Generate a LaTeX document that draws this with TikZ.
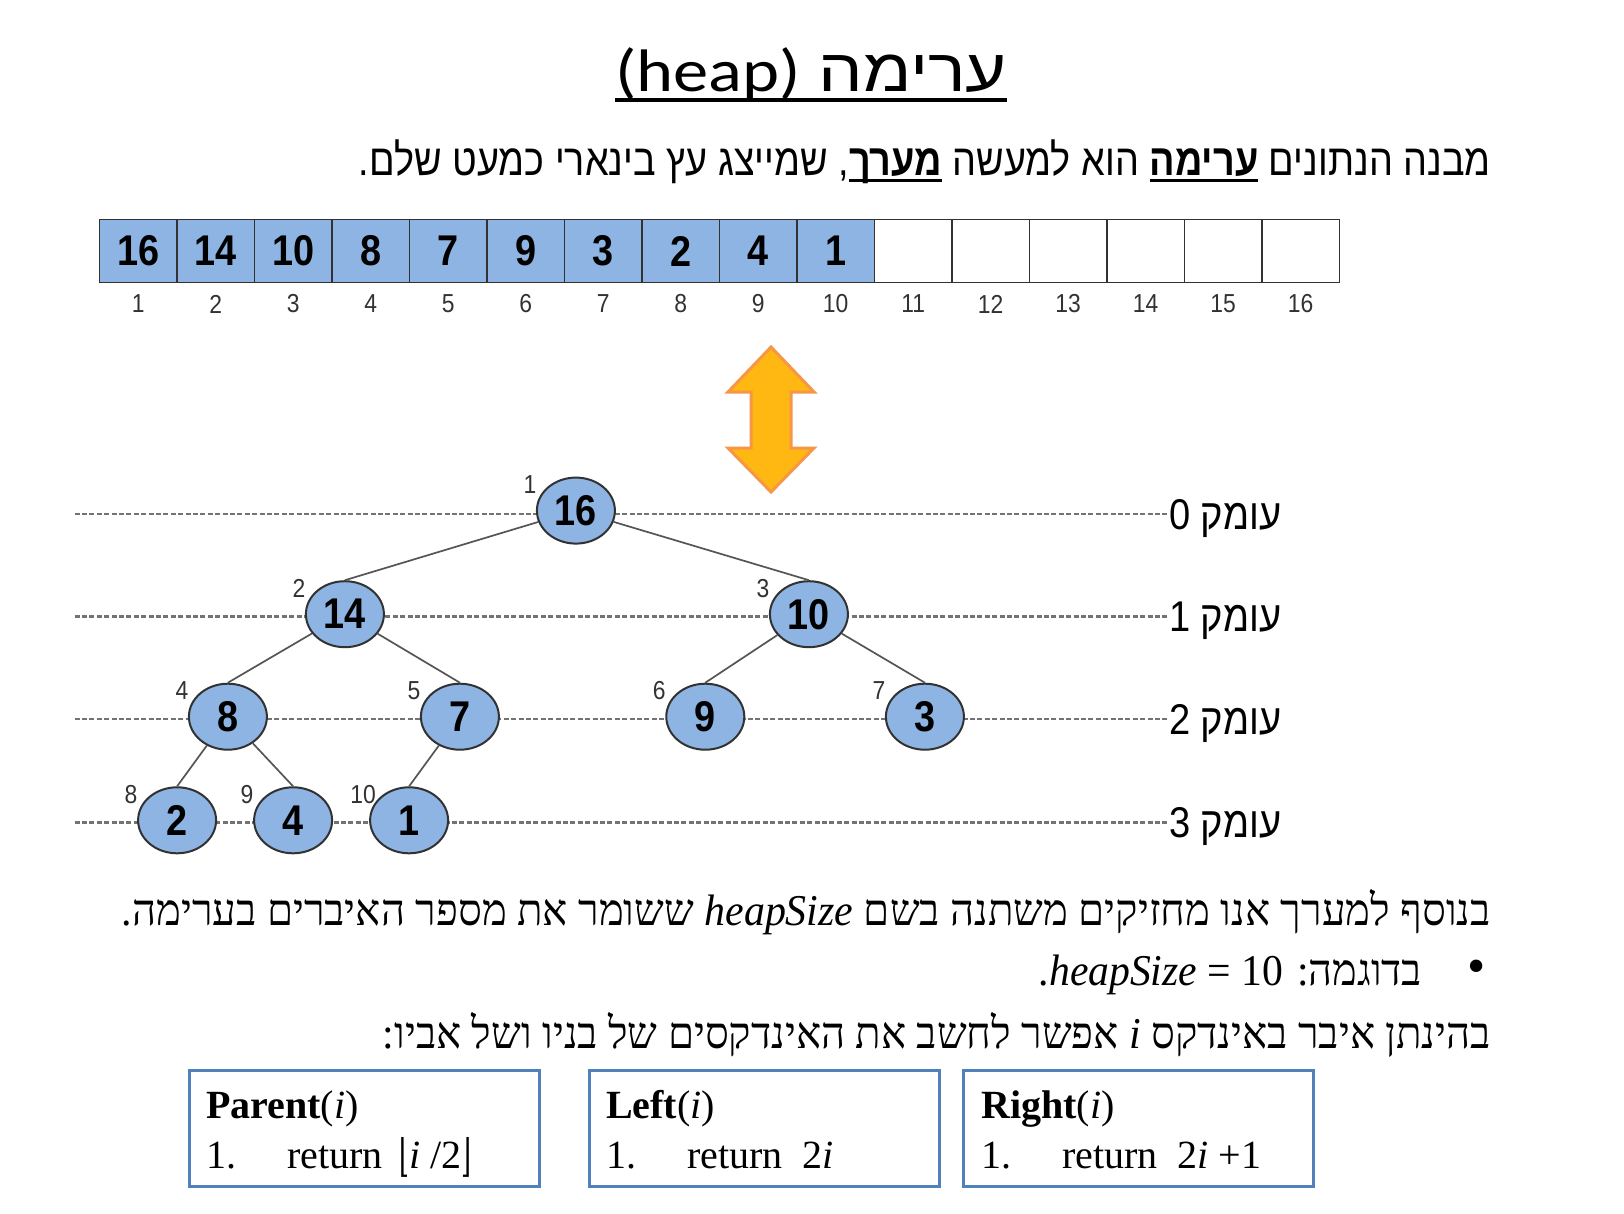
\documentclass[tikz,border=0pt]{standalone}
\usepackage{fontspec}
\usepackage{graphicx}
\usetikzlibrary{shapes.geometric}
\TeXXeTstate=1
\setmainfont{Liberation Serif}
\newfontfamily\hebsans[Script=Hebrew]{Liberation Sans}
\newfontfamily\hebserif[Script=Hebrew]{Liberation Serif}
\newfontfamily\arialf{Liberation Sans}
\newfontfamily\calibf{Carlito}
\newfontfamily\djvserif{DejaVu Serif}
\definecolor{cellblue}{RGB}{141,180,226}
\definecolor{darkline}{RGB}{50,50,50}
\definecolor{edgegray}{RGB}{85,85,85}
\definecolor{dotgray}{RGB}{115,115,115}
\definecolor{boxblue}{RGB}{79,129,189}
\definecolor{arrowfill}{RGB}{255,184,18}
\definecolor{arrowedge}{RGB}{247,150,70}
\definecolor{idxgray}{RGB}{50,50,50}
\newcommand{\ulbold}[1]{\hbox{\setbox0\hbox{\bfseries #1}\rlap{\rule[-6pt]{\wd0}{2.8pt}}\box0}}
\newcommand{\dg}[1]{\scalebox{0.88}[1]{#1}}
\newcommand{\flr}[1]{{\djvserif\fontsize{32}{32}\selectfont\raisebox{-3pt}{\scalebox{0.8}[1.4]{#1}}}}
\tikzset{
  cell/.style={draw=darkline,line width=1.5pt,minimum width=77.5pt,minimum height=63.1pt,inner sep=0pt,
    font=\arialf\bfseries\fontsize{43}{43}\selectfont},
  aidx/.style={inner sep=0pt,text=idxgray,font=\arialf\fontsize{26}{26}\selectfont},
  tn/.style={ellipse,draw=darkline,line width=2pt,fill=cellblue,minimum width=78pt,minimum height=66pt,inner sep=0pt,
    font=\arialf\bfseries\fontsize{43}{43}\selectfont},
  tidx/.style={inner sep=0pt,text=idxgray,font=\arialf\fontsize{26}{26}\selectfont},
  edge/.style={draw=edgegray,line width=1.7pt},
  dotline/.style={draw=dotgray,line width=2.8pt,dash pattern=on 5pt off 2.4pt},
  depthlbl/.style={inner sep=0pt,anchor=base west,font=\hebsans\fontsize{43}{43}\selectfont},
  codebox/.style={draw=boxblue,line width=3pt,minimum width=350pt,minimum height=116pt,inner sep=0pt},
  codetxt/.style={inner sep=0pt,anchor=base west,font=\fontsize{40}{40}\selectfont},
  hebline/.style={inner sep=0pt,anchor=base east,font=\hebserif\fontsize{44}{44}\selectfont},
}
\begin{document}
\begin{tikzpicture}[x=1pt,y=-1pt]
\useasboundingbox (0,0) rectangle (1624,1214);
\fill[white] (0,0) rectangle (1624,1214);

% title
\node[inner sep=0pt,anchor=base] (title) at (811,92)
  {\resizebox{392pt}{\height}{\fontsize{60}{60}\selectfont\beginR{\hebsans ערימה} \beginL{\calibf (heap)}\endL\endR}};
\draw[line width=3.5pt] ([yshift=-8pt]title.base west) -- ([yshift=-8pt]title.base east);

% intro line
\node[inner sep=0pt,anchor=base east] (intro) at (1491,176)
  {\resizebox{1132pt}{\height}{\fontsize{44}{44}\selectfont\hebsans\beginR מבנה הנתונים \ulbold{ערימה} הוא למעשה \ulbold{מערך}, שמייצג עץ בינארי כמעט שלם.\endR}};

% array
\foreach \i/\v in {1/16,2/14,3/10,4/8,5/7,6/9,7/3,8/2,9/4,10/1}
  \node[cell,fill=cellblue] (c\i) at ({60.65+77.5*\i},251.15) {\dg{\v}};
\foreach \i in {11,...,16}
  \node[cell,fill=white] (c\i) at ({60.65+77.5*\i},251.15) {};
\foreach \i in {1,...,16}
  \node[aidx] (a\i) at ({60.65+77.5*\i},304) {\dg{\i}};

% double arrow
\draw[fill=arrowfill,draw=arrowedge,line width=3pt,line join=miter]
  (771,347) -- (814,392) -- (791,392) -- (791,448) -- (814,448) -- (771,492)
  -- (728,448) -- (751,448) -- (751,392) -- (728,392) -- cycle;

% depth lines
\foreach \k/\yy in {0/514,1/616.5,2/719,3/822.5}{
  \coordinate (ds\k) at (74.6,\yy);
  \coordinate (de\k) at (1167,\yy);
  \draw[dotline] (ds\k) -- (de\k);
  \node[depthlbl] (dl\k) at (1169,\yy+15) {\resizebox{112pt}{\height}{\beginR עומק \k\endR}};
}

% tree nodes
\node[tn] (n1) at (575.9,510.6) {\dg{16}};
\node[tn] (n2) at (344.9,614.2) {\dg{14}};
\node[tn] (n3) at (808.9,614.2) {\dg{10}};
\node[tn] (n4) at (227.9,716.7) {\dg{8}};
\node[tn] (n5) at (459.9,716.7) {\dg{7}};
\node[tn] (n6) at (705.3,716.7) {\dg{9}};
\node[tn] (n7) at (924.9,716.7) {\dg{3}};
\node[tn] (n8) at (177.1,820.3) {\dg{2}};
\node[tn] (n9) at (293.1,820.3) {\dg{4}};
\node[tn] (n10) at (409.1,820.3) {\dg{1}};

\foreach \i in {1,...,10}
  \node[tidx] (t\i) at ([xshift=-46pt,yshift=26pt]n\i.center) {\dg{\i}};

\draw[edge] (n1) -- (n2.north);
\draw[edge] (n1) -- (n3.north);
\draw[edge] (n2) -- (n4.north);
\draw[edge] (n2) -- (n5.north);
\draw[edge] (n3) -- (n6.north);
\draw[edge] (n3) -- (n7.north);
\draw[edge] (n4) -- (n8.north);
\draw[edge] (n4) -- (n9.north);
\draw[edge] (n5) -- (n10.north);

% bottom text
\node[hebline] (lineA) at (1491,925)
  {\resizebox{1369pt}{\height}{\beginR בנוסף למערך אנו מחזיקים משתנה בשם \beginL\textit{heapSize}\endL{} ששומר את מספר האיברים בערימה.\endR}};
\node[inner sep=0pt,font=\fontsize{52}{52}\selectfont] (bul) at (1477,972) {•};
\node[hebline] (lineB) at (1422,985)
  {\resizebox{383pt}{\height}{\beginR בדוגמה: \beginL\textit{heapSize} = 10\endL.\endR}};
\node[hebline] (lineC) at (1491,1048)
  {\resizebox{1108pt}{\height}{\beginR בהינתן איבר באינדקס \textit{i} אפשר לחשב את האינדקסים של בניו ושל אביו:\endR}};

% code boxes
\node[codebox] (b1) at (364.5,1128) {};
\node[codebox] (b2) at (764,1128) {};
\node[codebox] (b3) at (1138,1128) {};
\node[codetxt] (p1) at (206,1118) {\textbf{Parent}(\textit{i})};
\node[codetxt] (p2) at (206,1168) {1.};
\node[codetxt] (p3) at (287,1168) {return \,\flr{⌊}\textit{i} /2\flr{⌋}};
\node[codetxt] (q1) at (606,1118) {\textbf{Left}(\textit{i})};
\node[codetxt] (q2) at (606,1168) {1.};
\node[codetxt] (q3) at (687,1168) {return \ 2\textit{i}};
\node[codetxt] (r1) at (981,1118) {\textbf{Right}(\textit{i})};
\node[codetxt] (r2) at (981,1168) {1.};
\node[codetxt] (r3) at (1062,1168) {return \ 2\textit{i} +1};
\end{tikzpicture}
\end{document}
